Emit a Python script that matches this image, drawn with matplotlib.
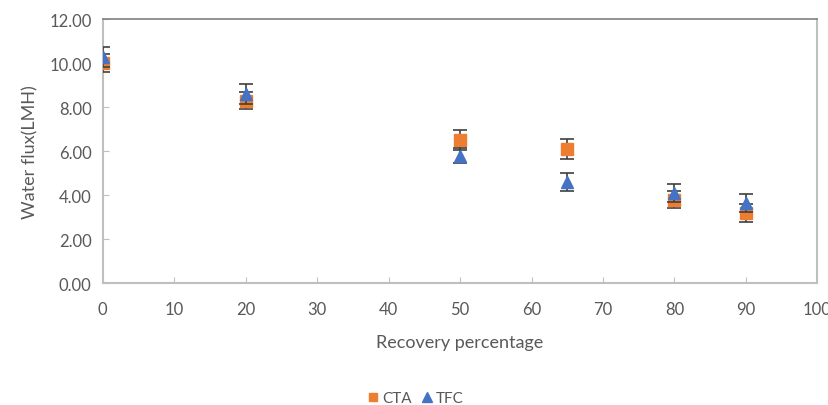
import numpy as np
import matplotlib
matplotlib.use('Agg')
import matplotlib.pyplot as plt

plt.rcParams['font.family'] = ['Lato', 'DejaVu Sans']

recovery = [0, 20, 50, 65, 80, 90]
cta_flux = [10.0, 8.3, 6.5, 6.1, 3.8, 3.2]
cta_err = [0.4, 0.4, 0.45, 0.45, 0.4, 0.4]
tfc_flux = [10.3, 8.6, 5.8, 4.6, 4.1, 3.65]
tfc_err = [0.45, 0.45, 0.35, 0.4, 0.4, 0.4]

orange = '#ED7D31'
blue = '#4472C4'
grey_txt = '#595959'

fig = plt.figure(figsize=(8.29, 4.06), dpi=100)
ax = fig.add_axes([0.124, 0.30, 0.862, 0.65])

ax.errorbar(recovery, cta_flux, yerr=cta_err, fmt='s', color=orange, ms=8,
            ecolor='#404040', elinewidth=1.2, capsize=5, capthick=1.2,
            label='CTA', zorder=3)
ax.errorbar(recovery, tfc_flux, yerr=tfc_err, fmt='^', color=blue, ms=9,
            ecolor='#404040', elinewidth=1.2, capsize=5, capthick=1.2,
            label='TFC', zorder=4)

ax.set_xlim(0, 100)
ax.set_ylim(0, 12)
ax.set_xticks(np.arange(0, 101, 10))
ax.set_yticks(np.arange(0, 12.1, 2))
ax.set_yticklabels(['%.2f' % v for v in np.arange(0, 12.1, 2)])
ax.tick_params(direction='in', length=4, color='#BFBFBF', labelcolor=grey_txt,
               labelsize=12, pad=8)
ax.tick_params(axis='x', pad=13)

for side in ['left', 'bottom', 'right']:
    ax.spines[side].set_color('#BFBFBF')
    ax.spines[side].set_linewidth(1.5)
ax.spines['top'].set_color('#808080')
ax.spines['top'].set_linewidth(1.2)

ax.set_xlabel('Recovery percentage', fontsize=13, color=grey_txt, labelpad=12)
ax.set_ylabel('Water flux(LMH)', fontsize=13, color=grey_txt, labelpad=8)

handles, labels = ax.get_legend_handles_labels()
handles = [h[0] for h in handles]
fig.legend(handles, labels, loc='lower center', bbox_to_anchor=(0.5, -0.035),
           ncol=2, frameon=False, fontsize=11, labelcolor=grey_txt,
           handletextpad=0.1, columnspacing=0.5, markerscale=0.8,
           handlelength=1.0)

fig.savefig('out.png', dpi=100)
